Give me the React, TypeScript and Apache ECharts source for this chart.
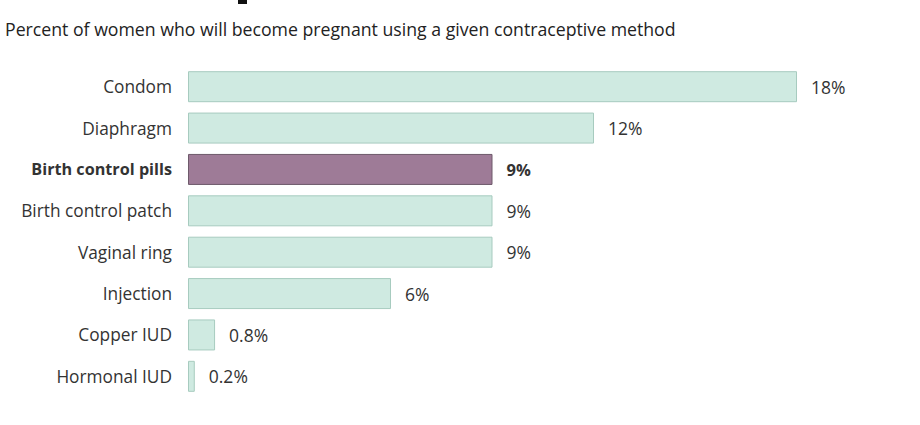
import React, { useEffect, useRef } from "react";
import * as echarts from "echarts";

const subtitle = "Percent of women who will become pregnant using a given contraceptive method";
const categories = [
  "Condom",
  "Diaphragm",
  "Birth control pills",
  "Birth control patch",
  "Vaginal ring",
  "Injection",
  "Copper IUD",
  "Hormonal IUD",
];
const values = [18, 12, 9, 9, 9, 6, 0.8, 0.2];
const valueLabels = ["18%", "12%", "9%", "9%", "9%", "6%", "0.8%", "0.2%"];
const highlight = "Birth control pills";

export default function App() {
  const ref = useRef<HTMLDivElement>(null);
  useEffect(() => {
    if (!ref.current) return;
    const chart = echarts.init(ref.current, null, { renderer: "svg" });
    const font = "'Open Sans', 'Noto Sans', sans-serif";
    chart.setOption({
      animation: false,
      backgroundColor: "#ffffff",
      title: {
        text: subtitle,
        left: 5,
        top: 20,
        padding: 0,
        textStyle: { fontFamily: font, fontSize: 17.7, fontWeight: "normal", color: "#222" },
      },
      graphic: [
        { type: "rect", shape: { x: 238, y: 0, width: 9, height: 4 }, style: { fill: "#111" } },
      ],
      grid: { left: 188, right: 123, top: 66, bottom: 28, containLabel: false },
      xAxis: {
        type: "value",
        min: 0,
        max: 18,
        show: false,
      },
      yAxis: {
        type: "category",
        inverse: true,
        data: categories,
        axisLine: { show: false },
        axisTick: { show: false },
        axisLabel: {
          margin: 16,
          fontFamily: font,
          fontSize: 17.3,
          color: "#333",
          formatter: (v: string) => (v === highlight ? "{b|" + v + "}" : v),
          rich: { b: { fontFamily: font, fontSize: 16.2, fontWeight: "bold", color: "#333" } },
        },
      },
      series: [
        {
          type: "bar",
          barWidth: 31,
          data: values.map((v, i) => {
            const hl = categories[i] === highlight;
            return {
              value: v,
              itemStyle: hl
                ? { color: "#9e7b97", borderColor: "#6e5a6b", borderWidth: 1 }
                : { color: "#cfeae1", borderColor: "#a7cbbf", borderWidth: 1 },
              label: {
                show: true,
                position: "right",
                distance: 14,
                formatter: valueLabels[i],
                fontFamily: font,
                fontSize: hl ? 16.5 : 17.5,
                color: "#333",
                fontWeight: hl ? "bold" : "normal",
              },
            };
          }),
        },
      ],
    });
    return () => chart.dispose();
  }, []);
  return (
    <div
      ref={ref}
      style={{ position: "fixed", left: 0, top: 0, width: 920, height: 425, background: "#fff" }}
    />
  );
}
